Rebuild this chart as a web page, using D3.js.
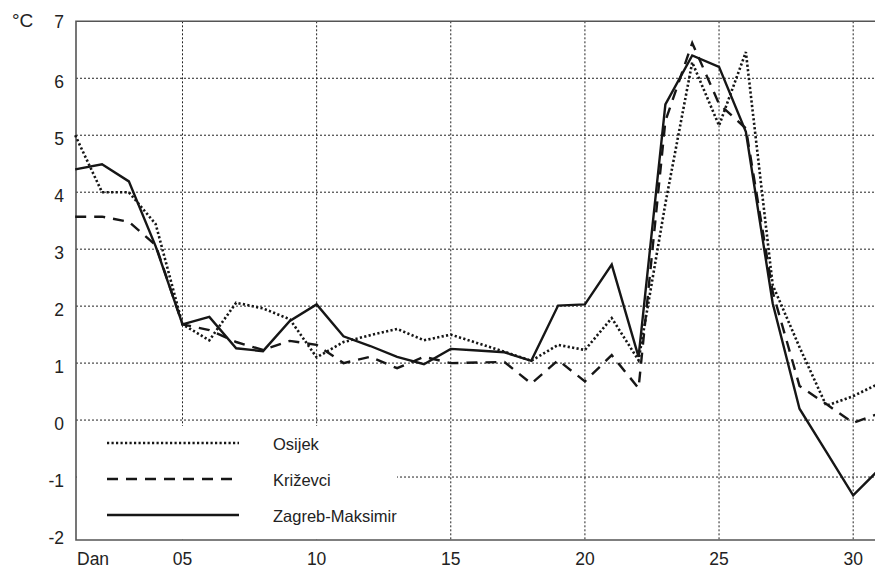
<!DOCTYPE html>
<html>
<head>
<meta charset="utf-8">
<script src="https://cdn.jsdelivr.net/npm/d3@7"></script>
<style>
  html, body { margin: 0; padding: 0; background: #fff; }
  svg { display: block; font-family: "Liberation Sans", Arial, Helvetica, sans-serif; }
</style>
</head>
<body>
<svg id="chart" width="875" height="569"></svg>
<script>
const days = d3.range(1, 32);
const osijek = [5.0, 4.0, 4.0, 3.44, 1.68, 1.40, 2.06, 1.96, 1.77, 1.10, 1.37, 1.49, 1.60, 1.40, 1.50, 1.35, 1.20, 1.04, 1.32, 1.23, 1.79, 1.05, 3.8, 6.28, 5.17, 6.46, 2.37, 1.28, 0.25, 0.42, 0.65];
const krizevci = [3.57, 3.57, 3.48, 3.07, 1.68, 1.58, 1.37, 1.23, 1.39, 1.32, 1.0, 1.11, 0.91, 1.11, 1.0, 1.01, 1.02, 0.64, 1.05, 0.68, 1.14, 0.56, 5.25, 6.62, 5.55, 5.12, 2.25, 0.6, 0.28, -0.05, 0.12];
const zagreb = [4.40, 4.49, 4.19, 3.05, 1.68, 1.81, 1.26, 1.21, 1.74, 2.03, 1.47, 1.30, 1.11, 0.98, 1.25, 1.22, 1.19, 1.04, 2.01, 2.03, 2.73, 1.11, 5.54, 6.40, 6.20, 5.06, 2.05, 0.2, -0.56, -1.32, -0.85];
const seriesNames = ["Osijek", "Križevci", "Zagreb-Maksimir"];
const yTicks = [-2, -1, 0, 1, 2, 3, 4, 5, 6, 7];
const xTicks = [5, 10, 15, 20, 25, 30];
const xTickLabels = ["05", "10", "15", "20", "25", "30"];

(function () {
const svg = d3.select("#chart");
const x = d3.scaleLinear().domain([1, 31]).range([75.2, 880]);
const y = d3.scaleLinear().domain([-2, 7]).range([534, 21.3]);
const pL = 76, pR = 875, pT = 21.3, pB = 540;

const ink = "#161616";
const gridColor = "#222";

// gridlines
const grid = svg.append("g");
grid.selectAll("line.h").data(yTicks.filter(v => v > -2 && v < 7)).join("line")
  .attr("class", "h")
  .attr("x1", pL).attr("x2", pR)
  .attr("y1", d => y(d)).attr("y2", d => y(d))
  .attr("stroke", gridColor).attr("stroke-width", 1).attr("stroke-dasharray", "2,2");
grid.selectAll("line.v").data(xTicks).join("line")
  .attr("class", "v")
  .attr("x1", d => x(d)).attr("x2", d => x(d))
  .attr("y1", pT).attr("y2", pB)
  .attr("stroke", gridColor).attr("stroke-width", 1).attr("stroke-dasharray", "2,2");

// frame
svg.append("path")
  .attr("d", `M${pR},${pT}H${pL}V${pB}H${pR}`)
  .attr("fill", "none").attr("stroke", "#555").attr("stroke-width", 1.6);

// series lines
const line = d3.line().x((d, i) => x(days[i])).y(d => y(d));
const styles = [
  { data: osijek, dash: "2.2,2.3", w: 2.6 },
  { data: krizevci, dash: "11,8", w: 2.4 },
  { data: zagreb, dash: null, w: 2.4 }
];
styles.forEach(s => {
  svg.append("path").datum(s.data)
    .attr("d", line)
    .attr("fill", "none").attr("stroke", ink).attr("stroke-width", s.w)
    .attr("stroke-linejoin", "miter")
    .attr("stroke-dasharray", s.dash);
});

// legend box (white) covering grid
svg.append("rect")
  .attr("x", pL + 1).attr("y", 426).attr("width", 397 - pL - 1).attr("height", pB - 426 - 1)
  .attr("fill", "#fff");
const legY = [443, 479, 515];
styles.forEach((s, i) => {
  svg.append("line")
    .attr("x1", 107).attr("x2", 239)
    .attr("y1", legY[i]).attr("y2", legY[i])
    .attr("stroke", ink).attr("stroke-width", s.w)
    .attr("stroke-dasharray", s.dash);
  svg.append("text")
    .attr("x", 273).attr("y", legY[i] + 6.5)
    .attr("font-size", 16.5).attr("fill", "#222")
    .text(seriesNames[i]);
});

// y tick labels
svg.selectAll("text.yt").data(yTicks).join("text")
  .attr("class", "yt")
  .attr("x", 64).attr("y", d => y(d) + (d === 7 ? 7 : 10))
  .attr("text-anchor", "end").attr("font-size", 17.5).attr("fill", "#222")
  .text(d => d);

// x tick labels
svg.selectAll("text.xt").data(xTicks).join("text")
  .attr("class", "xt")
  .attr("x", d => x(d)).attr("y", 565)
  .attr("text-anchor", "middle").attr("font-size", 17.5).attr("fill", "#222")
  .text((d, i) => xTickLabels[i]);
svg.append("text").attr("x", 77).attr("y", 565)
  .attr("font-size", 17.5).attr("fill", "#222").text("Dan");

// unit
svg.append("text").attr("x", 12).attr("y", 27)
  .attr("font-size", 19).attr("fill", "#222").text("°C");
})();
</script>
</body>
</html>
